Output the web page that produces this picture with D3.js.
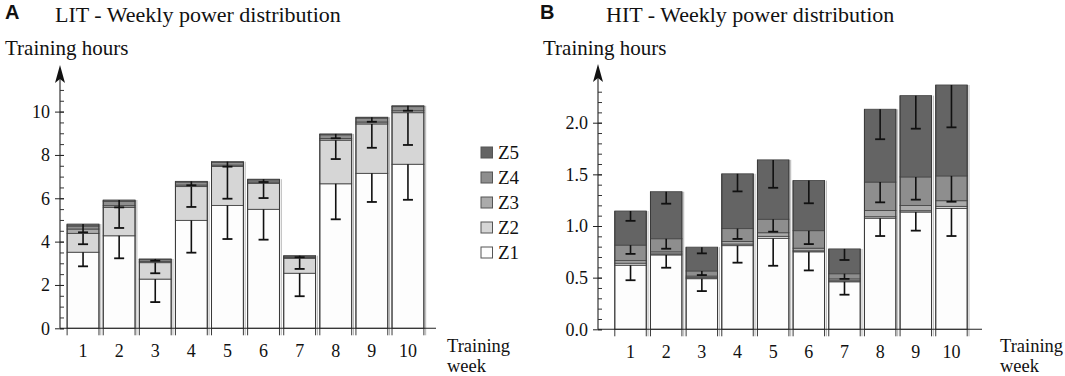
<!DOCTYPE html>
<html>
<head>
<meta charset="utf-8">
<script src="https://cdn.jsdelivr.net/npm/d3@7"></script>
<style>
  body { margin: 0; background: #fff; }
  svg { display: block; }
  text.serif, .serif text { font-family: "Liberation Serif", "Times New Roman", serif; fill: #111; }
</style>
</head>
<body>
<svg id="chart" width="1065" height="376"></svg>
<script>
// ---------- DATA ----------
const weeks = ["1","2","3","4","5","6","7","8","9","10"];
const zones = ["Z1","Z2","Z3","Z4","Z5"];
const zoneLegend = ["Z5","Z4","Z3","Z2","Z1"];

// LIT (hours per zone)
const litZ1 = [3.51, 4.27, 2.27, 4.98, 5.67, 5.49, 2.54, 6.67, 7.15, 7.57];
const litZ2 = [0.87, 1.31, 0.76, 1.56, 1.80, 1.20, 0.69, 2.01, 2.28, 2.38];
const litZ3 = [0.20, 0.08, 0.06, 0.07, 0.06, 0.06, 0.04, 0.08, 0.09, 0.09];
const litZ4 = [0.14, 0.20, 0.08, 0.14, 0.13, 0.10, 0.06, 0.17, 0.18, 0.19];
const litZ5 = [0.09, 0.06, 0.03, 0.03, 0.03, 0.03, 0.02, 0.04, 0.04, 0.04];
// LIT error bars (downward SD from the top of a zone)
const litErrZ1 = [0.65, 1.04, 1.06, 1.49, 1.55, 1.40, 1.06, 1.64, 1.32, 1.64];
const litErrZ2 = [0.50, 0.95, 0.49, 0.94, 1.49, 0.68, 0.49, 0.87, 1.10, 1.49];
const litErrZ5 = [0.38, 0.34, 0.08, 0.18, 0.23, 0.13, 0.07, 0.20, 0.21, 0.23];

// HIT (hours per zone)
const hitZ1 = [0.62, 0.72, 0.49, 0.81, 0.88, 0.75, 0.46, 1.075, 1.135, 1.17];
const hitZ2 = [0.02, 0.01, 0.01, 0.015, 0.02, 0.01, 0.01, 0.015, 0.013, 0.02];
const hitZ3 = [0.025, 0.02, 0.015, 0.025, 0.035, 0.025, 0.018, 0.06, 0.05, 0.055];
const hitZ4 = [0.15, 0.127, 0.05, 0.125, 0.13, 0.17, 0.05, 0.275, 0.277, 0.24];
const hitZ5 = [0.33, 0.455, 0.23, 0.53, 0.575, 0.485, 0.24, 0.705, 0.787, 0.88];
// HIT error bars
const hitErrZ1 = [0.145, 0.124, 0.12, 0.165, 0.265, 0.18, 0.125, 0.172, 0.18, 0.267];
const hitErrZ4 = [0.085, 0.097, 0.04, 0.10, 0.12, 0.13, 0.05, 0.196, 0.22, 0.25];
const hitErrZ5 = [0.095, 0.116, 0.06, 0.17, 0.27, 0.22, 0.107, 0.29, 0.32, 0.41];

const litYTicks = [0, 2, 4, 6, 8, 10];
const hitYTicks = [0.0, 0.5, 1.0, 1.5, 2.0];

const zoneColors = {Z1: "#fdfdfd", Z2: "#d6d6d6", Z3: "#ababab", Z4: "#8e8e8e", Z5: "#646464"};

// ---------- DRAW ----------
const svg = d3.select("#chart");

function buildRows(zs) {
  return weeks.map((w, i) => {
    const r = {week: w};
    zones.forEach((z, k) => r[z] = zs[k][i]);
    return r;
  });
}

function drawPanel(cfg) {
  const g = svg.append("g");
  const x = d3.scaleBand().domain(weeks).range(cfg.xRange).paddingInner(0.09).paddingOuter(0.045);
  const y = d3.scaleLinear().domain(cfg.yDomain).range(cfg.yRange);
  const rows = buildRows(cfg.series);
  const stacked = d3.stack().keys(zones)(rows);

  // bar segments
  stacked.forEach(layer => {
    g.append("g").selectAll("rect").data(layer).join("rect")
      .attr("x", d => x(d.data.week) + 0.5)
      .attr("y", d => y(d[1]))
      .attr("width", x.bandwidth() - 1)
      .attr("height", d => Math.max(0, y(d[0]) - y(d[1])))
      .attr("fill", zoneColors[layer.key])
      .attr("stroke", "#4a4a4a")
      .attr("stroke-width", 0.9);
  });

  // bar edges extending below axis + light outer edge
  const totals = rows.map(r => zones.reduce((s, z) => s + r[z], 0));
  const edges = g.append("g");
  weeks.forEach((w, i) => {
    const x0 = x(w) + 0.5, x1 = x(w) + x.bandwidth() - 0.5;
    edges.append("line").attr("x1", x0).attr("x2", x0).attr("y1", y(totals[i])).attr("y2", y(0) + 7)
      .attr("stroke", "#3a3a3a").attr("stroke-width", 1);
    edges.append("line").attr("x1", x1).attr("x2", x1).attr("y1", y(totals[i])).attr("y2", y(0) + 7)
      .attr("stroke", "#3a3a3a").attr("stroke-width", 1);
    edges.append("line").attr("x1", x1 + 1.8).attr("x2", x1 + 1.8).attr("y1", y(totals[i])).attr("y2", y(0) + 7)
      .attr("stroke", "#b5b5b5").attr("stroke-width", 1);
  });

  // error bars (downward from top of zone)
  const eg = g.append("g");
  Object.keys(cfg.errors).forEach(zk => {
    const layer = stacked.find(l => l.key === zk);
    const errs = cfg.errors[zk];
    layer.forEach((d, i) => {
      const cx = x(d.data.week) + x.bandwidth() / 2;
      const top = d[1], bot = d[1] - errs[i];
      eg.append("line").attr("x1", cx).attr("x2", cx).attr("y1", y(top)).attr("y2", y(bot))
        .attr("stroke", "#111").attr("stroke-width", 1.6);
      eg.append("line").attr("x1", cx - 5).attr("x2", cx + 5).attr("y1", y(bot)).attr("y2", y(bot))
        .attr("stroke", "#111").attr("stroke-width", 1.8);
    });
  });

  // x axis line
  g.append("line").attr("x1", cfg.axisX).attr("x2", cfg.xAxisEnd)
    .attr("y1", y(0)).attr("y2", y(0)).attr("stroke", "#222").attr("stroke-width", 1.1);

  // x tick labels
  const xa = g.append("g").attr("class", "serif").attr("transform", `translate(0,${y(0)})`)
    .call(d3.axisBottom(x).tickSize(0).tickPadding(15.5));
  xa.attr("font-family", null);
  xa.select(".domain").remove();
  xa.selectAll("text").style("font-size", "18px");

  // y axis: vertical line with arrow
  g.append("line").attr("x1", cfg.axisX).attr("x2", cfg.axisX)
    .attr("y1", y(0)).attr("y2", cfg.arrowTip + 10).attr("stroke", "#222").attr("stroke-width", 1.1);
  g.append("path")
    .attr("d", `M${cfg.axisX},${cfg.arrowTip} L${cfg.axisX - 5},${cfg.arrowTip + 18} L${cfg.axisX},${cfg.arrowTip + 14} L${cfg.axisX + 5},${cfg.arrowTip + 18} Z`)
    .attr("fill", "#111");

  // minor ticks (right side)
  const minor = g.append("g").attr("transform", `translate(${cfg.axisX},0)`)
    .call(d3.axisRight(y).tickValues(cfg.minorTicks).tickSize(4).tickFormat(""));
  minor.select(".domain").remove();
  minor.selectAll("line").attr("stroke", "#333");

  // major ticks + labels
  const major = g.append("g").attr("class", "serif").attr("transform", `translate(${cfg.axisX},0)`)
    .call(d3.axisLeft(y).tickValues(cfg.yTicks).tickSize(5).tickPadding(5).tickFormat(cfg.fmt));
  major.attr("font-family", null);
  major.select(".domain").remove();
  major.selectAll("line").attr("stroke", "#222").attr("x2", -5).attr("x1", 4);
  major.selectAll("text").style("font-size", "18px");

  // texts
  svg.append("text").attr("x", cfg.letterX).attr("y", 19).text(cfg.letter)
    .style("font-family", '"Liberation Sans", Arial, sans-serif').style("font-weight", "bold")
    .style("font-size", "20px").attr("fill", "#111");
  svg.append("text").attr("class", "serif").attr("x", cfg.titleX).attr("y", 22)
    .style("font-size", "22px").text(cfg.title);
  svg.append("text").attr("class", "serif").attr("x", cfg.yLabelX).attr("y", 55)
    .style("font-size", "21px").text("Training hours");
  svg.append("text").attr("class", "serif").attr("x", cfg.weekX).attr("y", 351.5)
    .style("font-size", "18.5px").text("Training");
  svg.append("text").attr("class", "serif").attr("x", cfg.weekX).attr("y", 372)
    .style("font-size", "18.5px").text("week");
}

drawPanel({
  series: [litZ1, litZ2, litZ3, litZ4, litZ5],
  errors: {Z1: litErrZ1, Z2: litErrZ2, Z5: litErrZ5},
  xRange: [65, 426], yDomain: [0, 10], yRange: [328.3, 111.6],
  axisX: 60, xAxisEnd: 436, arrowTip: 65,
  yTicks: litYTicks, minorTicks: d3.range(0, 11.01, 0.5), fmt: d3.format("d"),
  letter: "A", letterX: 5, title: "LIT - Weekly power distribution", titleX: 55,
  yLabelX: 5, weekX: 447
});

drawPanel({
  series: [hitZ1, hitZ2, hitZ3, hitZ4, hitZ5],
  errors: {Z1: hitErrZ1, Z4: hitErrZ4, Z5: hitErrZ5},
  xRange: [612.7, 969.3], yDomain: [0, 2], yRange: [329.3, 122.7],
  axisX: 598, xAxisEnd: 982, arrowTip: 64,
  yTicks: hitYTicks, minorTicks: d3.range(0, 2.301, 0.1), fmt: d3.format(".1f"),
  letter: "B", letterX: 540, title: "HIT - Weekly power distribution", titleX: 606,
  yLabelX: 543, weekX: 1000
});

// legend
const leg = svg.append("g").attr("class", "serif").selectAll("g").data(zoneLegend).join("g")
  .attr("transform", (d, i) => `translate(481,${147 + i * 25})`);
leg.append("rect").attr("width", 11.5).attr("height", 11).attr("fill", d => zoneColors[d])
  .attr("stroke", "#555").attr("stroke-width", 1);
leg.append("text").attr("x", 17).attr("y", 11.5).style("font-size", "19px").text(d => d);
</script>
</body>
</html>
